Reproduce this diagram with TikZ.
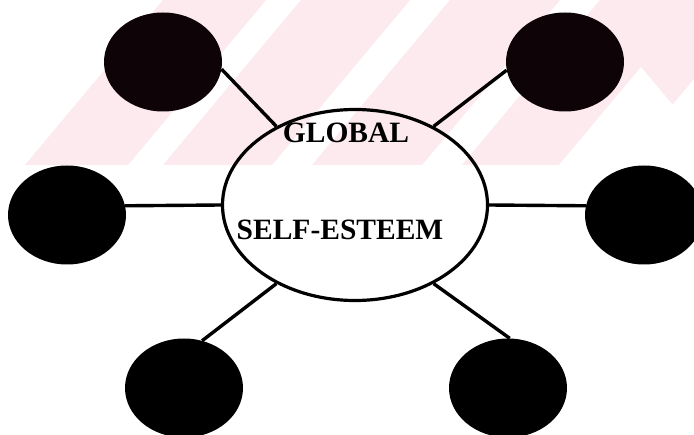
\documentclass[tikz,border=0pt]{standalone}
\usepackage{fontspec}
\setmainfont{Liberation Serif}
\usetikzlibrary{shapes.geometric}
\definecolor{wmpink}{RGB}{252,234,238}
\definecolor{blobtop}{RGB}{14,3,6}

\begin{document}
\begin{tikzpicture}[x=1pt, y=-1pt,
  core/.style={draw, ellipse, line width=3.2pt, minimum width=265pt, minimum height=191pt, inner sep=0pt},
  blob/.style={ellipse, fill=black, minimum width=118pt, minimum height=99pt, inner sep=0pt},
  spoke/.style={line width=3.4pt},
  lbl/.style={font=\bfseries\fontsize{29.5}{32}\selectfont, inner sep=0pt, anchor=base}]
  \fill[white] (0,0) rectangle (694,435);
  \useasboundingbox (0,0) rectangle (694,435);
  % faint watermark stripes
  \begin{scope}
    \clip (0,0) rectangle (694,165);
    \foreach \a/\b in {163/266, 301/410, 450/560, 600/760}
      \fill[wmpink] (\a,0) -- (\b,0) -- (\b-138,165) -- (\a-138,165) -- cycle;
    \fill[white] (641,67) -- (723,165) -- (559,165) -- cycle;
  \end{scope}
  % centre
  \node[core] (se) at (355,205) {};
  \node[lbl] (glob) at (346,143) {GLOBAL};
  \node[lbl] (sest) at (340,240) {SELF-ESTEEM};
  % outer blobs
  \node[blob, fill=blobtop] (d1) at (163,62) {};
  \node[blob, fill=blobtop] (d2) at (565,62) {};
  \node[blob] (d3) at (67,215) {};
  \node[blob] (d4) at (644,215) {};
  \node[blob] (d5) at (184,388) {};
  \node[blob] (d6) at (508,388) {};
  % spokes
  \foreach \c/\i/\o in {d1/-7/135, d2/188/45, d3/9/180, d4/171/0, d5/69/225, d6/88/315}
    \draw[spoke] (\c.\i) -- (se.\o);
\end{tikzpicture}
\end{document}
